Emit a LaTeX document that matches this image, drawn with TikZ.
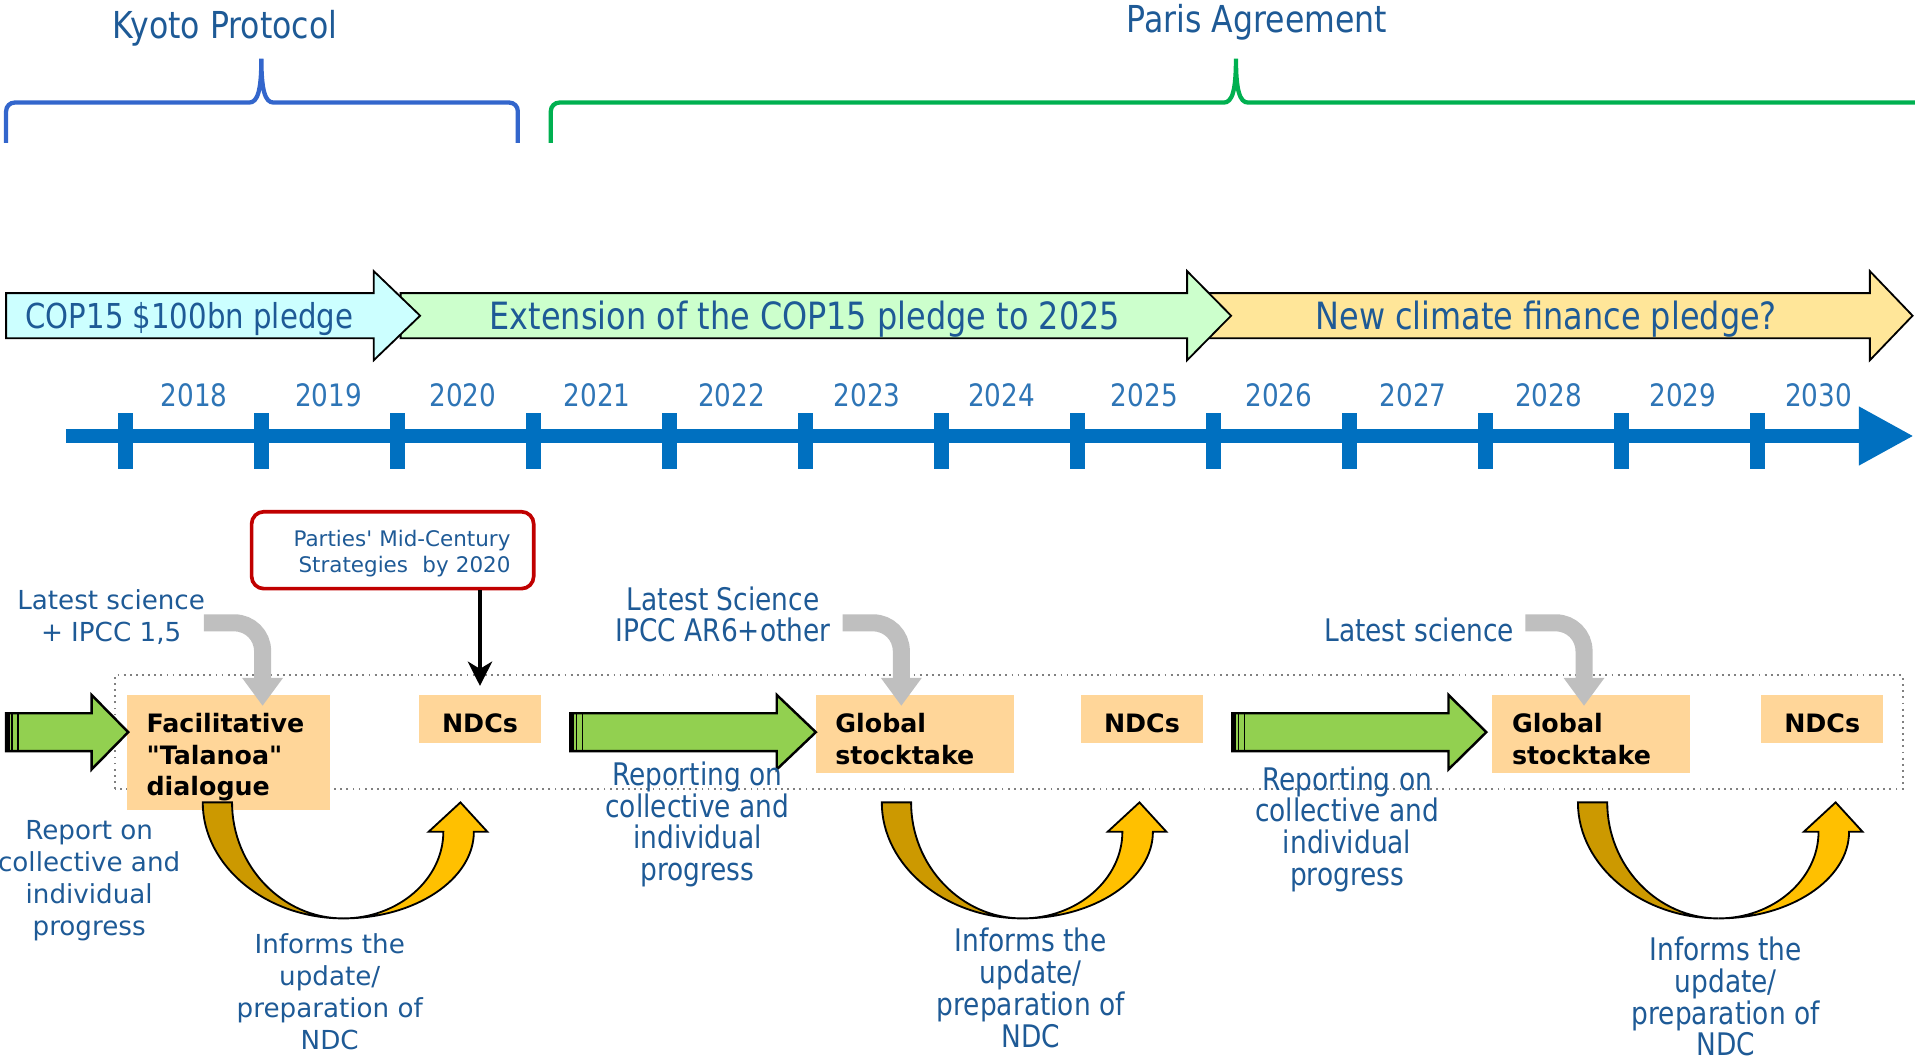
\documentclass[tikz,border=0pt]{standalone}
\usepackage{fontspec}
\setmainfont{DejaVu Sans}
\newfontfamily\narrowfont[FakeStretch=0.85]{DejaVu Sans}
\usetikzlibrary{arrows.meta}

\definecolor{txtblue}{RGB}{30,90,150}
\definecolor{yearblue}{RGB}{46,117,182}
\definecolor{lineblue}{RGB}{0,112,192}
\definecolor{kyotoblue}{RGB}{51,102,204}
\definecolor{parisgreen}{RGB}{0,176,80}
\definecolor{pledgecyan}{RGB}{204,255,255}
\definecolor{pledgegreen}{RGB}{204,255,204}
\definecolor{pledgeyellow}{RGB}{255,230,153}
\definecolor{peach}{RGB}{255,214,153}
\definecolor{arrowgreen}{RGB}{146,208,80}
\definecolor{sciencegray}{RGB}{191,191,191}
\definecolor{darkgold}{RGB}{204,153,0}
\definecolor{lightgold}{RGB}{255,192,0}
\definecolor{boxred}{RGB}{192,0,0}

\tikzset{
  bigtitle/.style={font=\narrowfont\fontsize{17.3}{20}\selectfont, text=txtblue},
  pledgetext/.style={font=\narrowfont\fontsize{17.5}{20}\selectfont, text=txtblue},
  yearlabel/.style={font=\narrowfont\fontsize{14.4}{17}\selectfont, text=yearblue},
  widenote/.style={font=\fontsize{12.2}{14.8}\selectfont, text=txtblue, align=center, inner sep=0pt},
  narrownote/.style={font=\narrowfont\fontsize{14.5}{14.8}\selectfont, text=txtblue, align=center, inner sep=0pt},
  stagebox/.style={fill=peach, font=\bfseries\fontsize{11.8}{14.7}\selectfont, inner sep=0pt},
  ndcbox/.style={stagebox, minimum width=2cm, minimum height=0.78cm, text height=13.1pt},
  widebox/.style={stagebox, inner xsep=0.32cm, align=left, text height=13.5pt},
  bracket/.style={line width=0.07cm},
  sciarrow/.style={draw=sciencegray, line width=0.28cm, rounded corners=0.46cm,
    -{Triangle[length=0.46cm, width=0.64cm]}},
  uturn/.pic={
    \filldraw[fill=darkgold, line width=0.03cm]
      (-115,95) .. controls (-115,43) and (-63,0) .. (0,0)
      .. controls (-50,0) and (-91,43) .. (-91,95) -- cycle;
    \filldraw[fill=lightgold, line width=0.03cm]
      (0,0) .. controls (59,0) and (107,32) .. (107,71)
      -- (118,71) -- (96,95) -- (70,71) -- (82,71)
      .. controls (82,32) and (45,0) .. (0,0) -- cycle;
  }
}

\newcommand{\pledgearrow}[4]{%
  \filldraw[fill=#4, draw=black, line width=0.03cm]
    (#1,592) -- (#2,592) -- (#2,574) -- (#3,610.5) -- (#2,647) -- (#2,629) -- (#1,629) -- cycle;}
\newcommand{\reportarrow}[3]{%
  \filldraw[fill=arrowgreen, draw=black, line width=0.04cm]
    (#1,254) -- (#2,254) -- (#2,239) -- (#3,269.5) -- (#2,300) -- (#2,285) -- (#1,285) -- cycle;
  \fill (#1,254) rectangle ++(3,31);
  \draw[line width=0.03cm] (#1+5,254) -- ++(0,31) (#1+10,254) -- ++(0,31);}

\begin{document}
\begin{tikzpicture}[x=0.02cm, y=0.02cm]
  \useasboundingbox (0,0) rectangle (1568,869);

  % treaties
  \node[bigtitle] (kyoto) at (184,846) {Kyoto Protocol};
  \node[bigtitle] (paris) at (1029,851) {Paris Agreement};
  \draw[bracket, kyotoblue] (5,752) -- (5,778) to[out=90,in=180] (12,785) -- (204,785)
    .. controls (211,785) and (214,795) .. (214,821)
    .. controls (214,795) and (217,785) .. (224,785) -- (417,785)
    to[out=0,in=90] (424,778) -- (424,752);
  \draw[bracket, parisgreen] (451,752) -- (451,778) to[out=90,in=180] (458,785) -- (1002,785)
    .. controls (1009,785) and (1012,795) .. (1012,821)
    .. controls (1012,795) and (1015,785) .. (1022,785) -- (1570,785);

  % finance pledges
  \pledgearrow{990}{1531}{1566}{pledgeyellow}
  \pledgearrow{328}{972}{1008}{pledgegreen}
  \pledgearrow{5}{306}{344}{pledgecyan}
  \node[pledgetext, font=\narrowfont\fontsize{16}{19}\selectfont] (cop) at (155,607.5) {COP15 \$100bn pledge};
  \node[pledgetext] (ext) at (659,607.5) {Extension of the COP15 pledge to 2025};
  \node[pledgetext] (new) at (1266,607.5) {New climate finance pledge?};

  % time line
  \draw[lineblue, line width=0.24cm, -{Triangle[length=0.9cm, width=0.9cm]}] (54,512) -- (1567,512);
  \foreach \i in {0,...,12}
    \draw[lineblue, line width=0.24cm] ({103+111.33*\i},485) -- ++(0,46);
  \foreach \yr/\x in {2018/159,2019/269,2020/379,2021/489,2022/599,2023/710,2024/820,
      2025/937,2026/1047,2027/1157,2028/1268,2029/1378,2030/1489}
    \node[yearlabel] (y\yr) at (\x,545) {\yr};

  % cycle
  \draw[gray, dotted, line width=0.03cm] (94,223) rectangle (1558,316);
  \node[widebox, text width=2.68cm, minimum height=1.88cm] (fac) at (187,253)
    {Facilitative\\\textquotedbl Talanoa\textquotedbl\\dialogue};
  \node[ndcbox] (ndc1) at (393,280.5) {NDCs};
  \node[widebox, text width=2.6cm, minimum height=1.28cm] (gst1) at (749,268) {Global\\stocktake};
  \node[ndcbox] (ndc2) at (935,280.5) {NDCs};
  \node[widebox, text width=2.6cm, minimum height=1.28cm] (gst2) at (1303,268) {Global\\stocktake};
  \node[ndcbox] (ndc3) at (1492,280.5) {NDCs};

  \node[draw=boxred, line width=0.06cm, rounded corners=0.2cm, text width=3.86cm,
    inner xsep=0.38cm, minimum height=1.26cm, align=right, text height=11pt,
    font=\fontsize{10}{12}\selectfont, text=txtblue]
    (mcs) at (321.5,418.5) {Parties\textquotesingle{} Mid-Century\\Strategies~~by 2020};
  \draw[line width=0.05cm, -{Stealth[length=0.4cm, width=0.4cm, inset=0.12cm]}]
    (mcs.south -| ndc1.north) -- ([yshift=0.14cm]ndc1.north);

  \node[widenote] (sci1) at (91,364) {Latest science\\+ IPCC 1,5};
  \node[narrownote] (sci2) at (592,366) {Latest Science\\IPCC AR6+other};
  \node[narrownote] (sci3) at (1162,353) {Latest science};
  \coordinate (s1a) at (167,359);
  \coordinate (s1b) at (215,291);
  \coordinate (s2a) at (690,359);
  \coordinate (s2b) at (738,291);
  \coordinate (s3a) at (1249,359);
  \coordinate (s3b) at (1297,291);
  \draw[sciarrow] (s1a) -| (s1b);
  \draw[sciarrow] (s2a) -| (s2b);
  \draw[sciarrow] (s3a) -| (s3b);

  \reportarrow{5}{75}{105}
  \reportarrow{467}{636}{668}
  \reportarrow{1009}{1186}{1217}
  \node[widenote] (rep1) at (73,148) {Report on\\collective and\\individual\\progress};
  \node[narrownote] (rep2) at (571,194) {Reporting on\\collective and\\individual\\progress};
  \node[narrownote] (rep3) at (1103,190) {Reporting on\\collective and\\individual\\progress};

  \pic at (281,117) {uturn};
  \pic at (837,117) {uturn};
  \pic at (1407,117) {uturn};
  \node[widenote] (inf1) at (270,57) {Informs the\\update/\\preparation of\\NDC};
  \node[narrownote] (inf2) at (844,60) {Informs the\\update/\\preparation of\\NDC};
  \node[narrownote] (inf3) at (1413,53) {Informs the\\update/\\preparation of\\NDC};
\end{tikzpicture}
\end{document}
